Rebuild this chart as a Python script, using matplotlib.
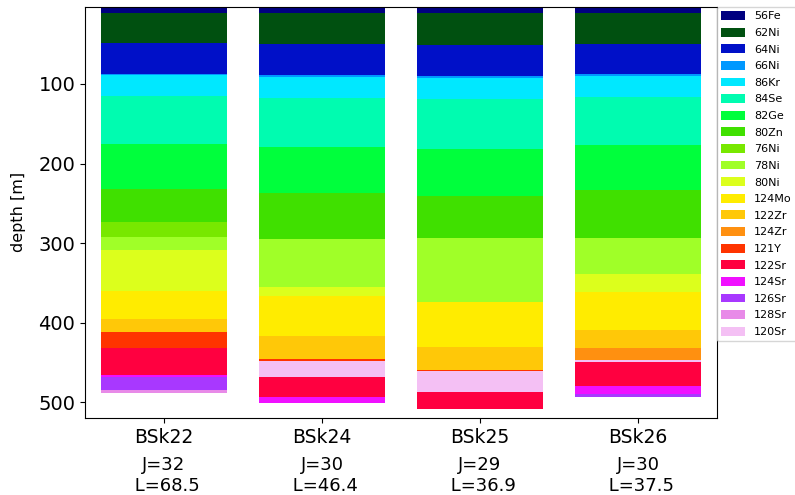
import matplotlib
matplotlib.use("Agg")
import matplotlib.pyplot as plt
from matplotlib.patches import Patch

# Nuclei shown in the legend and their colours
species = ["56Fe", "62Ni", "64Ni", "66Ni", "86Kr", "84Se", "82Ge", "80Zn", "76Ni",
           "78Ni", "80Ni", "124Mo", "122Zr", "124Zr", "121Y", "122Sr", "124Sr",
           "126Sr", "128Sr", "120Sr"]
colors = ["#000080", "#005010", "#0010c8", "#0098ff", "#00e8ff", "#00fcb0",
          "#00ff3c", "#40e000", "#78e800", "#a0ff28", "#dcff1c", "#ffec00",
          "#ffc808", "#ff9010", "#ff3400", "#ff0040", "#f010ff", "#a838ff",
          "#e88ae8", "#f4c0f4"]

models = ["BSk22", "BSk24", "BSk25", "BSk26"]
J_vals = [32, 30, 29, 30]
L_vals = [68.5, 46.4, 36.9, 37.5]

# Layer sequence (top to bottom) and the depth [m] at the bottom of each layer
bsk22_nuclei = ["56Fe", "62Ni", "64Ni", "66Ni", "86Kr", "84Se", "82Ge", "80Zn",
                "76Ni", "78Ni", "80Ni", "124Mo", "122Zr", "121Y", "122Sr",
                "124Sr", "126Sr", "128Sr"]
bsk22_depths = [10.3, 48.4, 87.4, 89.0, 114.7, 175.1, 232.1, 273.6, 292.1,
                308.8, 360.4, 395.6, 411.9, 431.7, 466.0, 468.1, 484.9, 488.3]

bsk24_nuclei = ["56Fe", "62Ni", "64Ni", "66Ni", "86Kr", "84Se", "82Ge", "80Zn",
                "78Ni", "80Ni", "124Mo", "122Zr", "121Y", "120Sr", "122Sr",
                "124Sr"]
bsk24_depths = [10.3, 49.3, 88.3, 91.2, 117.2, 178.9, 236.7, 295.0, 355.0,
                366.7, 417.0, 445.9, 448.4, 468.1, 493.3, 500.9]

bsk25_nuclei = ["56Fe", "62Ni", "64Ni", "66Ni", "86Kr", "84Se", "82Ge", "80Zn",
                "78Ni", "124Mo", "122Zr", "121Y", "120Sr", "122Sr"]
bsk25_depths = [10.3, 50.9, 89.9, 92.5, 118.9, 181.8, 240.5, 293.7, 373.8,
                430.4, 459.7, 461.0, 487.4, 508.8]

bsk26_nuclei = ["56Fe", "62Ni", "64Ni", "66Ni", "86Kr", "84Se", "82Ge", "80Zn",
                "78Ni", "80Ni", "124Mo", "122Zr", "124Zr", "120Sr", "122Sr",
                "124Sr", "126Sr"]
bsk26_depths = [10.3, 49.3, 87.4, 89.9, 116.4, 176.7, 232.9, 293.7, 338.6,
                361.3, 409.1, 431.7, 447.2, 449.7, 479.5, 489.6, 493.7]

layers = [(bsk22_nuclei, bsk22_depths), (bsk24_nuclei, bsk24_depths),
          (bsk25_nuclei, bsk25_depths), (bsk26_nuclei, bsk26_depths)]

color_of = dict(zip(species, colors))

fig = plt.figure(figsize=(7.95, 4.95), dpi=100)
ax = fig.add_axes([0.1069, 0.1556, 0.7950, 0.8309])

for i, (nuclei, depths) in enumerate(layers):
    top = 0.0
    for nuc, bottom in zip(nuclei, depths):
        ax.bar(i, bottom - top, bottom=top, width=0.8, color=color_of[nuc],
               linewidth=0)
        top = bottom

ax.set_xlim(-0.5, 3.5)
ax.set_ylim(520, 2.8)
ax.set_yticks([100, 200, 300, 400, 500])
ax.set_xticks(range(len(models)))
ax.set_xticklabels(models, fontsize=13.5)
ax.tick_params(axis="y", labelsize=14)
ax.set_ylabel("depth [m]", fontsize=11.5, labelpad=9)

for i, (J, L) in enumerate(zip(J_vals, L_vals)):
    ax.annotate(f"J={J}\n L={L}", xy=(i, 0), xycoords=("data", "axes fraction"),
                xytext=(0, -38), textcoords="offset pixels", ha="center",
                va="top", fontsize=13, linespacing=1.22)

handles = [Patch(facecolor=c, edgecolor="none", label=s)
           for s, c in zip(species, colors)]
ax.legend(handles=handles, loc="upper left", bbox_to_anchor=(1.0, 1.0),
          borderaxespad=0.0, fontsize=8, handlelength=2.15, handleheight=0.85,
          labelspacing=0.57, frameon=True)

fig.savefig("out.png", dpi=100)
